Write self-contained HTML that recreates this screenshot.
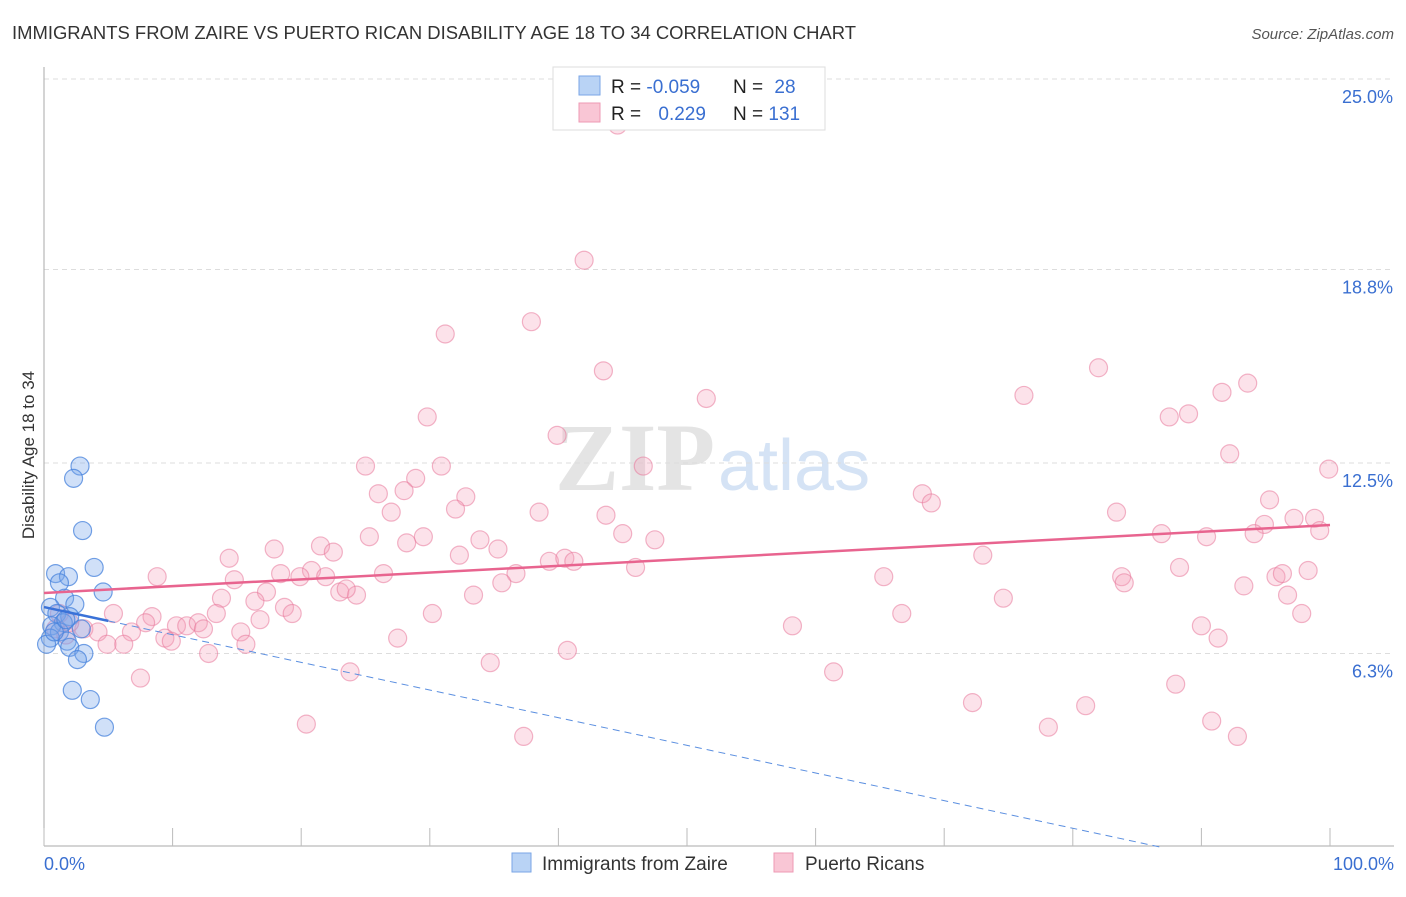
<!DOCTYPE html>
<html><head><meta charset="utf-8"><style>
body{margin:0;background:#fff;width:1406px;height:892px;overflow:hidden;font-family:"Liberation Sans",sans-serif}
</style></head><body>
<svg id="chart" width="1406" height="892" xmlns="http://www.w3.org/2000/svg">
<text x="12" y="39" font-size="18" fill="#333" textLength="844" lengthAdjust="spacingAndGlyphs">IMMIGRANTS FROM ZAIRE VS PUERTO RICAN DISABILITY AGE 18 TO 34 CORRELATION CHART</text>
<text x="1394" y="39" font-size="15" fill="#555" font-style="italic" text-anchor="end">Source: ZipAtlas.com</text>
<g>
<text x="555" y="490" font-size="96" fill="#e4e4e4" font-family="Liberation Serif,serif" font-weight="bold">ZIP</text>
<text x="718" y="490" font-size="72" fill="#d5e3f5">atlas</text>
</g>
<g id="grid"></g>
<g id="axes"></g>
<g id="marks"></g>
<text transform="translate(34,455) rotate(-90)" font-size="17" fill="#333" text-anchor="middle">Disability Age 18 to 34</text>
<g>
<rect x="553" y="67" width="272" height="63" fill="#fff" stroke="#ddd"/>
<rect x="579" y="76" width="21" height="19" fill="#b9d3f5" stroke="#7aa6e6"/>
<rect x="579" y="103" width="21" height="19" fill="#f9c6d5" stroke="#ee9ab4"/>
<text x="611" y="93" font-size="19" fill="#222">R = <tspan fill="#3a6fd1">-0.059</tspan></text>
<text x="733" y="93" font-size="19" fill="#222">N = <tspan fill="#3a6fd1" dx="6">28</tspan></text>
<text x="611" y="120" font-size="19" fill="#222">R = <tspan fill="#3a6fd1" dx="12">0.229</tspan></text>
<text x="733" y="120" font-size="19" fill="#222">N = <tspan fill="#3a6fd1">131</tspan></text>
</g>
<g>
<rect x="512" y="853" width="19" height="19" fill="#b9d3f5" stroke="#7aa6e6"/>
<text x="542" y="870" font-size="19" fill="#333">Immigrants from Zaire</text>
<rect x="774" y="853" width="19" height="19" fill="#f9c6d5" stroke="#ee9ab4"/>
<text x="805" y="870" font-size="19" fill="#333">Puerto Ricans</text>
</g>
</svg>
<script>
const yTicks=[6.3,12.5,18.8,25.0];
const yTickLabels=["6.3%","12.5%","18.8%","25.0%"];
const xTickLabels=["0.0%","100.0%"];
const blueX=[2.8,2.3,3.0,3.9,0.9,1.9,1.2,4.6,1.6,2.4,0.5,1.0,2.0,1.5,0.6,2.9,1.2,0.5,1.8,0.2,2.0,3.1,2.6,2.2,3.6,4.7,0.8,1.7];
const blueY=[12.4,12.0,10.3,9.1,8.9,8.8,8.6,8.3,8.1,7.9,7.8,7.6,7.5,7.3,7.2,7.1,7.0,6.8,6.7,6.6,6.5,6.3,6.1,5.1,4.8,3.9,7.0,7.4];
const pinkX=[44.6,42.0,37.9,31.2,43.5,82.0,51.5,76.2,93.6,91.6,89.0,87.5,29.8,39.9,92.2,99.9,25.0,30.9,46.6,28.9,26.0,28.0,32.8,68.3,69.0,95.3,27.0,32.0,38.5,43.7,83.4,98.8,97.2,94.9,94.1,99.2,86.9,90.4,25.3,29.5,33.9,45.0,47.5,28.2,21.5,17.9,22.5,35.3,14.4,32.3,39.3,40.5,41.2,73.0,20.8,18.4,19.9,21.9,26.4,46.0,36.7,88.3,98.3,95.8,96.3,83.8,65.3,8.8,14.8,35.6,84.0,93.3,17.3,23.0,24.3,23.5,33.4,13.8,16.4,74.6,96.7,18.7,19.3,13.4,5.4,8.4,16.8,30.2,66.7,97.8,7.9,10.3,11.1,12.0,12.4,58.2,90.0,3.1,4.2,6.8,15.3,9.4,27.5,91.3,9.9,4.9,6.2,15.7,12.8,40.7,34.7,23.8,61.4,7.5,88.0,72.2,81.0,20.4,78.1,90.8,37.3,92.8,1.2,2.0,0.9,1.7];
const pinkY=[23.5,19.1,17.1,16.7,15.5,15.6,14.6,14.7,15.1,14.8,14.1,14.0,14.0,13.4,12.8,12.3,12.4,12.4,12.4,12.0,11.5,11.6,11.4,11.5,11.2,11.3,10.9,11.0,10.9,10.8,10.9,10.7,10.7,10.5,10.2,10.3,10.2,10.1,10.1,10.1,10.0,10.2,10.0,9.9,9.8,9.7,9.6,9.7,9.4,9.5,9.3,9.4,9.3,9.5,9.0,8.9,8.8,8.8,8.9,9.1,8.9,9.1,9.0,8.8,8.9,8.8,8.8,8.8,8.7,8.6,8.6,8.5,8.3,8.3,8.2,8.4,8.2,8.1,8.0,8.1,8.2,7.8,7.6,7.6,7.6,7.5,7.4,7.6,7.6,7.6,7.3,7.2,7.2,7.3,7.1,7.2,7.2,7.1,7.0,7.0,7.0,6.8,6.8,6.8,6.7,6.6,6.6,6.6,6.3,6.4,6.0,5.7,5.7,5.5,5.3,4.7,4.6,4.0,3.9,4.1,3.6,3.6,7.6,7.3,7.1,6.9];
const pinkTrend=[8.27,10.48];
const blueTrend=[7.81,-0.09];
const X0=44,X1=1330,Y0=847,PXY=30.72;
const sx=v=>X0+(X1-X0)*v/100;
const sy=v=>Y0-v*PXY;
const NS="http://www.w3.org/2000/svg";
function mk(tag,attrs,parent){const e=document.createElementNS(NS,tag);for(const k in attrs)e.setAttribute(k,attrs[k]);parent.appendChild(e);return e;}
const grid=document.getElementById('grid'),axes=document.getElementById('axes'),marks=document.getElementById('marks');
yTicks.forEach((t,i)=>{
 const l=mk('line',{x1:44,x2:1394,y1:sy(t),y2:sy(t),stroke:'#ddd','stroke-dasharray':'5,4'},grid);
 
 
 const tx=mk('text',{x:1393,y:sy(t)+24,'font-size':18,fill:'#3a6fd1','text-anchor':'end'},axes);
 tx.textContent=yTickLabels[i];
 
 
});
const ya=mk('line',{x1:44,x2:44,y1:67,y2:846,stroke:'#aaa'},axes);


const xa=mk('line',{x1:44,x2:1394,y1:846,y2:846,stroke:'#aaa'},axes);


for(let i=0;i<=10;i++){
 const tk=mk('line',{x1:sx(i*10),x2:sx(i*10),y1:828,y2:846,stroke:'#bbb'},axes);
 
 
}
const xl0=mk('text',{x:44,y:870,'font-size':18,fill:'#3a6fd1'},axes);xl0.textContent=xTickLabels[0];


const xl1=mk('text',{x:1394,y:870,'font-size':18,fill:'#3a6fd1','text-anchor':'end'},axes);xl1.textContent=xTickLabels[1];


pinkX.forEach((x,i)=>{
 const c=mk('circle',{cx:sx(x),cy:sy(pinkY[i]),r:9,fill:'rgba(245,160,185,0.3)',stroke:'rgba(232,120,155,0.55)','stroke-width':1.2},marks);
 
 
});
blueX.forEach((x,i)=>{
 const c=mk('circle',{cx:sx(x),cy:sy(blueY[i]),r:9,fill:'rgba(120,165,235,0.35)',stroke:'rgba(70,130,220,0.75)','stroke-width':1.2},marks);
 
 
});
const bEnd=-blueTrend[0]/blueTrend[1];
const bd=mk('line',{x1:sx(5),y1:sy(blueTrend[0]+blueTrend[1]*5),x2:sx(bEnd),y2:sy(0),stroke:'#5b8fe0','stroke-width':1,'stroke-dasharray':'7,5'},marks);


const bs=mk('line',{x1:sx(0),y1:sy(blueTrend[0]),x2:sx(5),y2:sy(blueTrend[0]+blueTrend[1]*5),stroke:'#3a72d8','stroke-width':2.5},marks);


const pt=mk('line',{x1:sx(0),y1:sy(pinkTrend[0]),x2:sx(100),y2:sy(pinkTrend[1]),stroke:'#e8648f','stroke-width':2.5},marks);


</script>
</body></html>
